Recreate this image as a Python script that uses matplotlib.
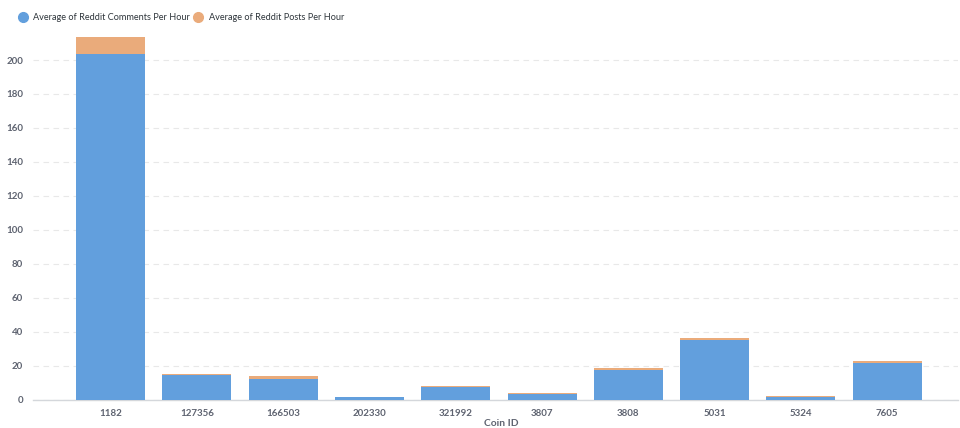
import matplotlib.pyplot as plt
from matplotlib.lines import Line2D

coin_ids = ["1182", "127356", "166503", "202330", "321992", "3807", "3808", "5031", "5324", "7605"]
comments_per_hour = [203.8, 14.3, 12.3, 1.2, 7.4, 3.1, 17.6, 35.0, 1.3, 21.3]
posts_per_hour = [9.5, 0.8, 1.7, 0.4, 0.5, 0.5, 1.1, 1.2, 0.9, 1.4]

BLUE = "#629FDD"
ORANGE = "#EAAB7B"
TEXT = "#5E6370"

plt.rcParams['font.family'] = ['Lato', 'DejaVu Sans']

fig = plt.figure(figsize=(9.6, 4.28), dpi=100, facecolor='w')
ax = fig.add_axes([33/960, (428-399.5)/428, 925/960, 373.45/428])

x = list(range(len(coin_ids)))
ax.bar(x, comments_per_hour, width=0.8, color=BLUE, zorder=3)
ax.bar(x, posts_per_hour, width=0.8, bottom=comments_per_hour, color=ORANGE, zorder=3)

ax.set_xlim(-0.9, 9.82)
ax.set_ylim(0, 220)
ax.set_yticks(range(0, 201, 20))
ax.set_xticks(x)
ax.set_xticklabels(coin_ids)

ax.grid(axis='y', color='#E8E8E8', linestyle=(0, (5, 4)), linewidth=0.8, zorder=0)
for s in ['top', 'right', 'left']:
    ax.spines[s].set_visible(False)
ax.spines['bottom'].set_color('#D4D7DB')
ax.spines['bottom'].set_linewidth(1.0)
ax.tick_params(axis='both', length=0, labelsize=7, labelcolor=TEXT)
ax.tick_params(axis='x', pad=7)
ax.tick_params(axis='y', pad=7)
for lbl in ax.get_xticklabels() + ax.get_yticklabels():
    lbl.set_fontweight('bold')

fig.text(501/960, 1 - 424/428, "Coin ID", ha='center', va='center', fontsize=7.4, fontweight='bold', color=TEXT)

handles = [Line2D([], [], marker='o', linestyle='', markersize=7, color=BLUE),
           Line2D([], [], marker='o', linestyle='', markersize=7, color=ORANGE)]
fig.legend(handles, ["Average of Reddit Comments Per Hour", "Average of Reddit Posts Per Hour"],
           loc='center left', bbox_to_anchor=(9/960, 1 - 18/428), ncol=2, frameon=False,
           fontsize=6.6, handletextpad=0.55, columnspacing=0.3, handlelength=1.2,
           labelcolor='#2E353B')

fig.savefig("out.png", dpi=100, facecolor='w')
